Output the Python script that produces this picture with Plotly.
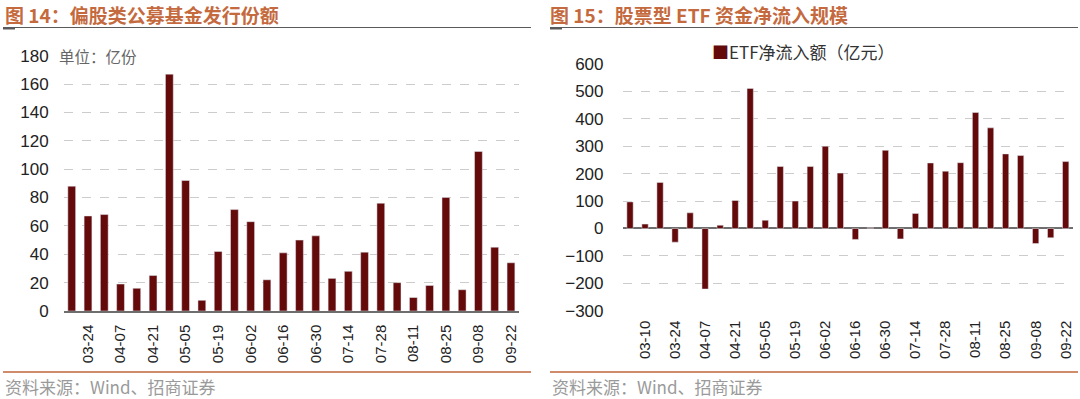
import plotly.graph_objects as go

W, H = 1080, 399

# ---------------- data ----------------
left_dates = ["03-17", "03-24", "03-31", "04-07", "04-14", "04-21", "04-28",
              "05-05", "05-12", "05-19", "05-26", "06-02", "06-09", "06-16",
              "06-23", "06-30", "07-07", "07-14", "07-21", "07-28", "08-04",
              "08-11", "08-18", "08-25", "09-01", "09-08", "09-15", "09-22"]
left_values = [88, 67, 68, 19, 16, 25, 167, 92, 7.5, 42, 71.5, 63, 22, 41,
               50, 53, 23, 28, 41.5, 76, 20, 9.5, 18, 80, 15, 112.5, 45, 34]

right_dates = ["03-03", "03-10", "03-17", "03-24", "03-31", "04-07", "04-14",
               "04-21", "04-28", "05-05", "05-12", "05-19", "05-26", "06-02",
               "06-09", "06-16", "06-23", "06-30", "07-07", "07-14", "07-21",
               "07-28", "08-04", "08-11", "08-18", "08-25", "09-01", "09-08",
               "09-15", "09-22"]
right_values = [97, 16, 168, -50, 57, -221, 12, 102, 511, 30, 226, 100, 226,
                300, 202, -40, 3, 285, -38, 55, 239, 209, 240, 423, 367, 272,
                266, -55, -34, 244]

left_ticks = left_dates[1::2]
right_ticks = right_dates[1::2]

title_left = "图 14：偏股类公募基金发行份额"
title_right = "图 15：股票型 ETF 资金净流入规模"
unit_left = "单位：亿份"
legend_right = "ETF净流入额（亿元）"
source_text = "资料来源：Wind、招商证券"

# ---------------- style ----------------
BAR = "#640A0A"
TITLE_C = "#C46A3E"
GRID = "#CCCCCC"
AXIS = "#6E6E6E"
FONT = "Liberation Sans, Arial, Noto Sans CJK SC"
CJK = "Noto Sans CJK SC, Liberation Sans"


def px(x):
    return x / W


def py(y):
    return 1 - y / H


fig = go.Figure()
fig.add_trace(go.Bar(x=left_dates, y=left_values, marker_color=BAR,
                     width=0.48, xaxis="x", yaxis="y", showlegend=False))
fig.add_trace(go.Bar(x=right_dates, y=right_values, marker_color=BAR,
                     width=0.42, xaxis="x2", yaxis="y2", showlegend=False,
                     name=legend_right))

common_x = dict(type="category", tickangle=-90, showgrid=False, ticks="",
                tickfont=dict(family=FONT, size=15, color="#222"),
                fixedrange=True, automargin=False)
common_y = dict(showgrid=True, gridcolor=GRID, griddash="dash", gridwidth=1,
                ticks="", tickfont=dict(family=FONT, size=17, color="#222"),
                fixedrange=True, automargin=False)

fig.update_layout(
    width=W, height=H, autosize=False,
    margin=dict(l=0, r=0, t=0, b=0, pad=0),
    paper_bgcolor="white", plot_bgcolor="white",
    bargap=0.5,
    xaxis=dict(domain=[px(63.6), px(519.1)], anchor="y",
               range=[-0.5, len(left_dates) - 0.5],
               tickmode="array", tickvals=left_ticks, ticktext=left_ticks,
               showline=True, linecolor=AXIS, linewidth=1.5,
               ticklabelstandoff=6, **common_x),
    yaxis=dict(domain=[py(311), py(55.7)], anchor="x", range=[0, 180],
               dtick=20, zeroline=False, ticklabelstandoff=14, **common_y),
    xaxis2=dict(domain=[px(622.5), px(1073.2)], anchor="y2",
                range=[-0.5, len(right_dates) - 0.5],
                tickmode="array", tickvals=right_ticks, ticktext=right_ticks,
                showline=False, ticklabelstandoff=6, **common_x),
    yaxis2=dict(domain=[py(310.7), py(64)], anchor="x2", range=[-300, 600],
                dtick=100, zeroline=True, zerolinecolor=AXIS,
                zerolinewidth=1.5, ticklabelstandoff=18, **common_y),
)

annotations = [
    dict(text="<b>" + title_left + "</b>", x=px(4), y=py(14), xanchor="left",
         yanchor="middle", borderpad=0,
         font=dict(family=CJK, size=19, color=TITLE_C)),
    dict(text="<b>" + title_right + "</b>", x=px(549), y=py(14),
         xanchor="left", yanchor="middle", borderpad=0,
         font=dict(family=CJK, size=19, color=TITLE_C)),
    dict(text=unit_left, x=px(57), y=py(55.7), xanchor="left",
         yanchor="middle", font=dict(family=CJK, size=15.5, color="#666")),
    dict(text="<span style='color:%s'>■</span>%s" % (BAR, legend_right),
         x=px(710), y=py(51), xanchor="left", yanchor="middle",
         font=dict(family=CJK, size=17, color="#333")),
    dict(text=source_text, x=px(3), y=py(386), xanchor="left",
         yanchor="middle", font=dict(family=CJK, size=17, color="#9A9A9A")),
    dict(text=source_text, x=px(550), y=py(386), xanchor="left",
         yanchor="middle", font=dict(family=CJK, size=17, color="#9A9A9A")),
]
for a in annotations:
    a.update(xref="paper", yref="paper", showarrow=False)
fig.update_layout(annotations=annotations)

shapes = []
for x0, x1 in [(3, 531), (550, 1078)]:
    shapes.append(dict(type="line", x0=px(x0), x1=px(x1), y0=py(27.5),
                       y1=py(27.5), line=dict(color="#5A5A5A", width=1)))
    shapes.append(dict(type="line", x0=px(x0), x1=px(x0 + 12), y0=py(28.5),
                       y1=py(28.5), line=dict(color="#5A5A5A", width=2)))
    shapes.append(dict(type="line", x0=px(x0), x1=px(x1), y0=py(372),
                       y1=py(372), line=dict(color="#D08A6C", width=2)))
for s in shapes:
    s.update(xref="paper", yref="paper", layer="above")
fig.update_layout(shapes=shapes)

fig.write_html(
    "out.html",
    config={"responsive": False, "displayModeBar": False},
    post_script="document.body.style.margin='0';"
                "document.body.style.overflow='hidden';",
)
